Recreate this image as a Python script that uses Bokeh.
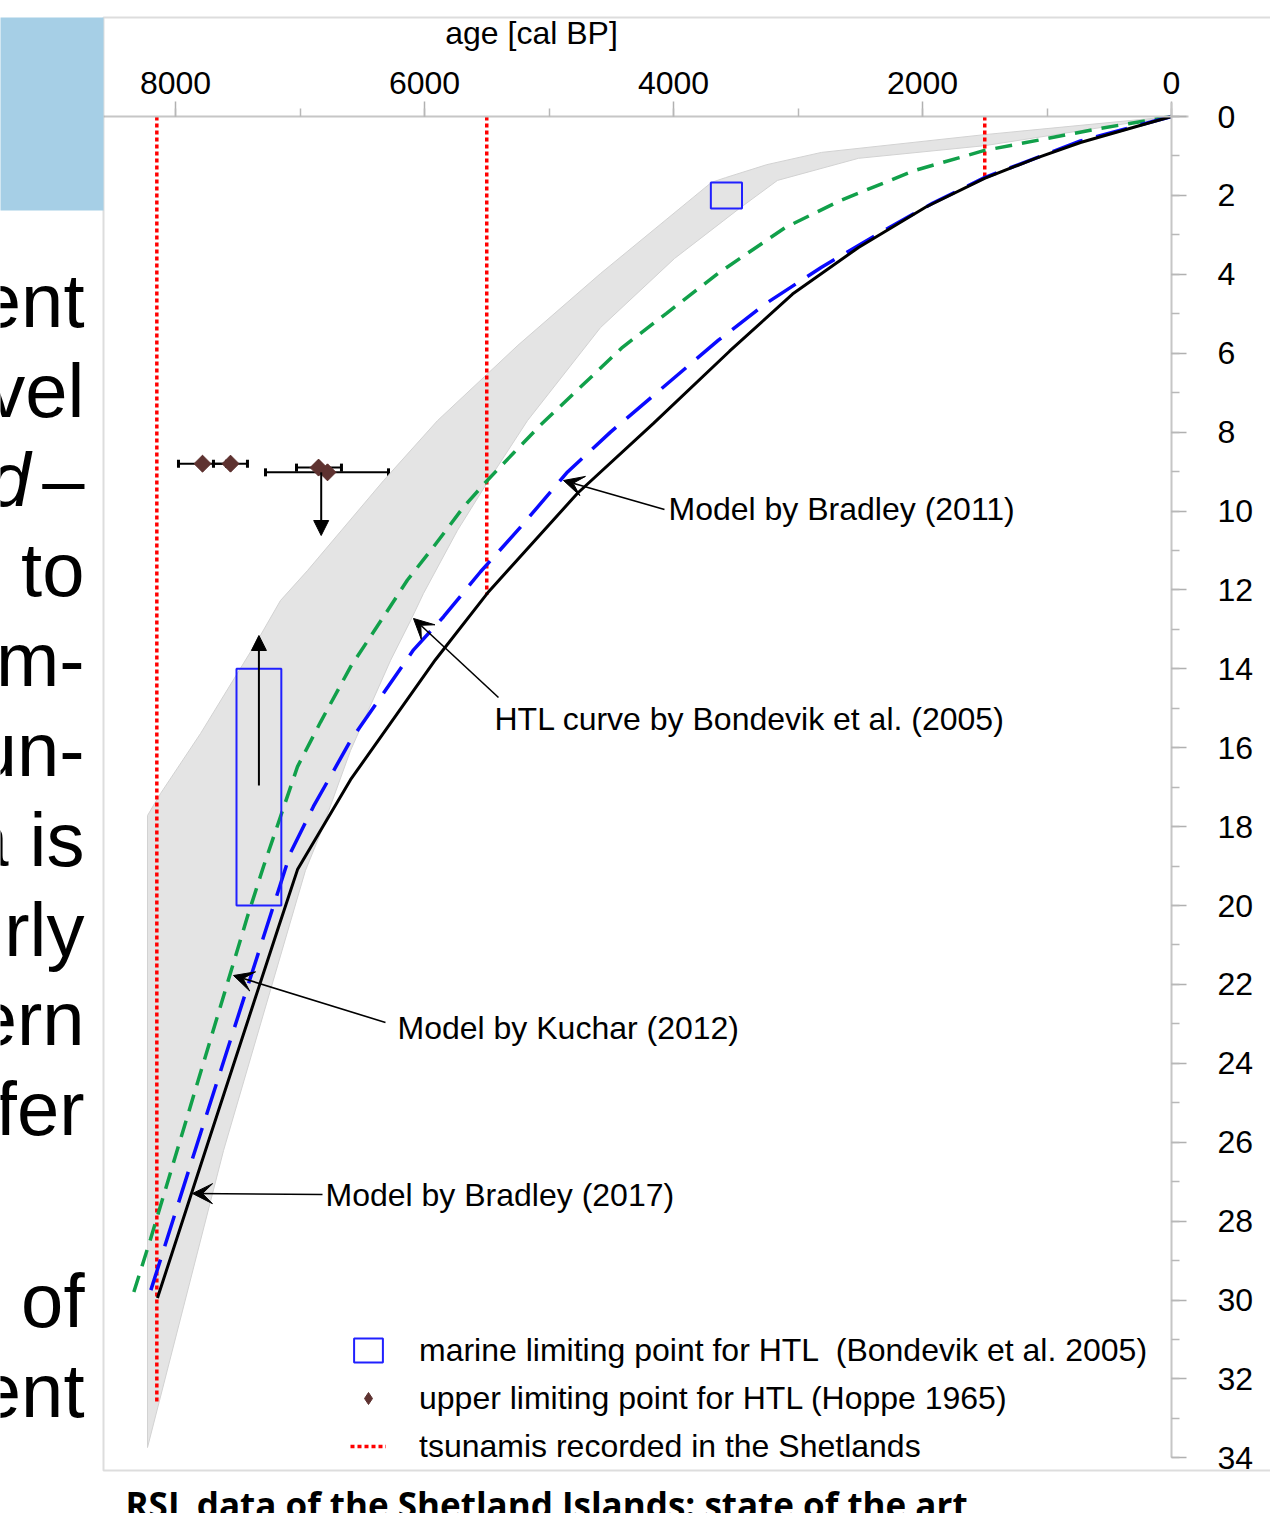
from bokeh.plotting import figure
from bokeh.models import (Range1d, LinearAxis, SingleIntervalTicker, Label, Arrow, VeeHead,
                          NormalHead, TeeHead, Whisker, ColumnDataSource, BoxAnnotation,
                          Legend, LegendItem, Grid)
from bokeh.embed import file_html
from bokeh.resources import INLINE

# ---------------- data (age in cal BP, depth in m below present) ----------------
bradley2017_age = [0, 731, 1092, 1502, 1976, 2514, 3044, 3550, 4161, 4771, 5494, 5912, 6594, 7020, 7173, 7743, 8145]
bradley2017_depth = [0, 0.66, 1.06, 1.57, 2.30, 3.32, 4.50, 5.95, 7.78, 9.55, 12.08, 13.77, 16.81, 19.09, 20.55, 26.05, 29.95]

bradley2011_age = [0, 731, 1502, 1920, 2337, 2811, 3253, 3639, 4506, 4851, 5229, 5550, 5847, 6088, 6594, 6892, 7076, 7855, 8217]
bradley2011_depth = [0, 0.62, 1.55, 2.20, 2.94, 3.82, 4.73, 5.67, 8.00, 9.01, 10.41, 11.54, 12.68, 13.52, 15.82, 17.49, 18.66, 26.33, 29.94]

kuchar_age = [0, 570, 1502, 2064, 2659, 3100, 3639, 4056, 4410, 5068, 5285, 5494, 5687, 5928, 6137, 6329, 6594, 6835, 7020, 7157, 7293, 7422, 7984, 8201, 8345]
kuchar_depth = [0, 0.30, 0.86, 1.37, 2.13, 2.81, 3.97, 4.99, 5.85, 7.82, 8.53, 9.22, 9.90, 10.91, 11.75, 12.68, 13.95, 15.35, 16.48, 17.75, 19.01, 20.28, 26.18, 28.46, 29.90]

htl_upper_age = [0, 1502, 2811, 3250, 3582, 3695, 4586, 5250, 5896, 6329, 6940, 7157, 7341, 7799, 8120, 8225, 8225]
htl_upper_depth = [0, 0.46, 0.91, 1.22, 1.55, 1.67, 3.98, 5.80, 7.71, 9.23, 11.51, 12.27, 13.28, 15.64, 17.16, 17.72, 33.74]
htl_lower_age = [0, 1502, 2514, 3165, 3462, 3992, 4586, 5173, 5470, 5735, 6008, 6112, 6273, 6594, 6835, 6956, 7614, 8225]
htl_lower_depth = [0, 0.74, 1.06, 1.62, 2.31, 3.60, 5.35, 7.71, 9.15, 10.49, 12.09, 12.78, 13.79, 16.07, 18.17, 19.11, 26.21, 33.74]

marine_age = [3575, 7330]
marine_age_err = [125, 180]
marine_depth = [2.0, 17.0]
marine_depth_err = [0.33, 3.0]

hoppe_age = [7783, 7558, 6851, 6779]
hoppe_age_lo = [7590, 7422, 6667, 6289]
hoppe_age_hi = [7976, 7695, 7028, 7277]
hoppe_depth = [8.80, 8.80, 8.90, 9.02]

tsunami_age = [8150, 5500, 1500]
tsunami_depth_top = [0, 0, 0]
tsunami_depth_end = [32.63, 12.13, 1.57]

legend_labels = ["marine limiting point for HTL  (Bondevik et al. 2005)",
                 "upper limiting point for HTL (Hoppe 1965)",
                 "tsunamis recorded in the Shetlands"]
model_labels = ["Model by Bradley (2011)", "HTL curve by Bondevik et al. (2005)",
                "Model by Kuchar (2012)", "Model by Bradley (2017)"]
x_ticks_interval = 2000
y_ticks_interval = 2
axis_title = "age [cal BP]"
caption = "RSL data of the Shetland Islands: state of the art"
slide_fragments = ["ent", "vel", "d", "\u2013", "to", "m-", "un-", "a is", "rly", "ern", "fer", "of", "ent"]

# ---------------- layout helpers (page pixels -> data) ----------------
W, H = 1270, 1513
OFF = 0
PX_PER_YR = 0.1245
PX_PER_M = 39.45
X_AGE0 = 1171
Y_DEPTH0 = 116


def age_at(px):
    return (X_AGE0 - px) / PX_PER_YR


def depth_at(py):
    return (py - Y_DEPTH0) / PX_PER_M


FONT = "Liberation Sans"
FS = "32px"

p = figure(width=W, height=H,
           x_range=Range1d(start=age_at(OFF), end=age_at(OFF + W)),
           y_range=Range1d(start=depth_at(OFF + H), end=depth_at(OFF)),
           output_backend="svg", toolbar_location=None,
           x_axis_location=None, y_axis_location=None,
           min_border=0, min_border_left=0, min_border_right=0, min_border_top=0, min_border_bottom=0,
           outline_line_color=None, background_fill_color="white", border_fill_color="white")
p.center = [c for c in p.center if not isinstance(c, Grid)]

# decorations: slide box and outer frame
p.add_layout(BoxAnnotation(left=age_at(103), right=age_at(1500), top=depth_at(17), bottom=depth_at(1470),
                           fill_color=None, fill_alpha=0, line_color="#8f8f8f", line_width=2))
p.add_layout(BoxAnnotation(left=age_at(-50), right=age_at(103), top=depth_at(17), bottom=depth_at(210),
                           fill_color="#a6cfe6", fill_alpha=1, line_color=None))

# HTL envelope (Bondevik et al. 2005)
band_x = htl_upper_age + htl_lower_age[::-1]
band_y = htl_upper_depth + htl_lower_depth[::-1]
p.patch(band_x, band_y, fill_color="#e4e4e4", line_color="#d2d2d2", line_width=1)

# tsunamis
r_ts = p.segment(x0=tsunami_age, y0=tsunami_depth_top, x1=tsunami_age, y1=tsunami_depth_end,
                 line_color="#ff0000", line_width=3.5, line_dash="4 3")

# models
p.line(kuchar_age, kuchar_depth, line_color="#11a04a", line_width=3.5, line_dash="17 10")
p.line(bradley2011_age, bradley2011_depth, line_color="#0a0aff", line_width=3.5, line_dash="32 14")
p.line(bradley2017_age, bradley2017_depth, line_color="black", line_width=3)

# marine limiting points
r_rect = p.rect(x=marine_age, y=marine_depth,
                width=[2 * e for e in marine_age_err], height=[2 * e for e in marine_depth_err],
                fill_color=None, line_color="#2020ff", line_width=2)

# Hoppe points with error bars
hsrc = ColumnDataSource(dict(age=hoppe_age, lo=hoppe_age_lo, hi=hoppe_age_hi, depth=hoppe_depth))
p.add_layout(Whisker(source=hsrc, base="depth", lower="lo", upper="hi", dimension="width",
                     line_color="black", line_width=2,
                     lower_head=TeeHead(size=8, line_width=3, line_color="black"),
                     upper_head=TeeHead(size=8, line_width=3, line_color="black")))
r_dia = p.scatter("age", "depth", source=hsrc, marker="diamond", size=16,
                  fill_color="#5e3230", line_color="#5e3230")
p.scatter("age", "depth", source=hsrc, marker="square", angle=0.7854, size=12,
          fill_color="#5e3230", line_color="#5e3230")

# limiting arrows
p.add_layout(Arrow(x_start=marine_age[1], y_start=depth_at(785), x_end=marine_age[1], y_end=depth_at(635),
                   line_color="black", line_width=2,
                   end=NormalHead(size=15, fill_color="black", line_color="black")))
p.add_layout(Arrow(x_start=age_at(320.7), y_start=hoppe_depth[3], x_end=age_at(320.7), y_end=depth_at(535),
                   line_color="black", line_width=2,
                   end=NormalHead(size=15, fill_color="black", line_color="black")))

# model annotations: (text x, text y, arrow start x, y, arrow end x, y) in page px
ann = [(668, 508, 664, 509, 563, 480),
       (494, 718, 498, 697, 413, 618),
       (397, 1027, 385, 1022, 233, 975),
       (325, 1194, 322, 1194, 192, 1193)]
for txt, (tx, ty, sx, sy, ex, ey) in zip(model_labels, ann):
    p.add_layout(Arrow(x_start=age_at(sx), y_start=depth_at(sy), x_end=age_at(ex), y_end=depth_at(ey),
                       line_color="black", line_width=1.6,
                       end=VeeHead(size=20, fill_color="black", line_color="black")))
    p.add_layout(Label(x=age_at(tx), y=depth_at(ty), text=txt, text_align="left", text_baseline="middle",
                       text_font=FONT, text_font_size=FS, text_color="black"))

# axes
xax = LinearAxis(fixed_location=0, ticker=SingleIntervalTicker(interval=x_ticks_interval, num_minor_ticks=2),
                 bounds=(age_at(1188), age_at(103)))
yax = LinearAxis(fixed_location=0, ticker=SingleIntervalTicker(interval=y_ticks_interval, num_minor_ticks=2),
                 bounds=(depth_at(102), 34))
for ax in (xax, yax):
    ax.axis_line_color = "#c6c6c6"
    ax.axis_line_width = 2
    ax.major_tick_line_color = "#b0b0b0"
    ax.minor_tick_line_color = "#b8b8b8"
    ax.major_tick_line_width = 1.5
    ax.minor_tick_line_width = 1.5
    ax.major_tick_in = 0
    ax.major_tick_out = 15
    ax.minor_tick_in = 0
    ax.minor_tick_out = 8
    ax.major_label_text_font = FONT
    ax.major_label_text_font_size = FS
    ax.major_label_text_color = "black"
xax.major_label_standoff = 8
yax.major_label_standoff = 31
p.add_layout(xax, "above")
p.add_layout(yax, "right")

p.add_layout(Label(x=age_at(531), y=depth_at(32), text=axis_title, text_align="center", text_baseline="middle",
                   text_font=FONT, text_font_size=FS, text_color="black"))

# legend
legend = Legend(items=[LegendItem(label=legend_labels[0], renderers=[r_rect]),
                       LegendItem(label=legend_labels[1], renderers=[r_dia]),
                       LegendItem(label=legend_labels[2], renderers=[r_ts])],
                location=(350, 47), orientation="vertical",
                glyph_width=36, glyph_height=30, label_height=40, spacing=8,
                padding=0, label_standoff=33,
                label_text_font=FONT, label_text_font_size=FS, label_text_color="black",
                border_line_color=None, background_fill_alpha=0)
p.add_layout(legend)

# slide text fragments (left, cropped) and caption
frag_pos = [(84, 300), (84, 390), (30, 479), (84, 479), (84, 569), (84, 659), (84, 749), (84, 839),
            (84, 929), (84, 1018), (84, 1108), (84, 1300), (84, 1390)]
for txt, (fx, fy) in zip(slide_fragments, frag_pos):
    p.add_layout(Label(x=age_at(fx), y=depth_at(fy), text=txt, text_align="right", text_baseline="middle",
                       text_font=FONT, text_font_size="76px", text_color="black",
                       text_font_style="italic" if txt == "d" else "normal"))
p.add_layout(Label(x=age_at(125), y=depth_at(1504), text=caption, text_align="left", text_baseline="middle",
                   text_font="Open Sans", text_font_size="35px", text_font_style="bold", text_color="black"))

open("out.html", "w").write(file_html(p, INLINE))
